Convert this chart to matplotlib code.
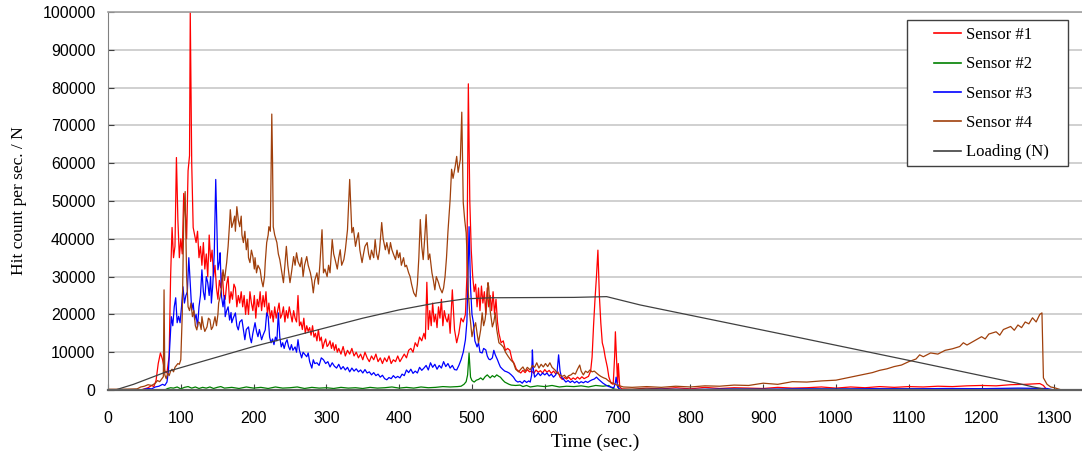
"""
Acoustic emission hit rate of four sensors during a load cycle.

Output:
    out.png
"""

import matplotlib.pyplot as plt
from matplotlib.patches import Rectangle

# ---------------------------------------------------------------- data
s1_time = [
    0, 45, 50, 55, 60, 63, 66, 69, 72, 75, 78, 81, 84, 86, 88, 90, 92, 94, 96, 98,
    100, 102, 104, 106, 108, 110, 112, 113, 115, 117, 119, 121, 123, 125, 127, 129,
    131, 133, 135, 137, 139, 141, 143, 145, 147, 149, 151, 153, 155, 157, 159, 161,
    163, 165, 167, 169, 171, 173, 175, 177, 179, 181, 183, 185, 187, 189, 191, 193,
    195, 197, 199, 201, 203, 205, 207, 209, 211, 213, 215, 217, 219, 221, 223, 225,
    227, 229, 231, 233, 235, 237, 239, 241, 243, 245, 247, 249, 251, 253, 255, 257,
    259, 261, 263, 265, 267, 269, 271, 273, 275, 277, 279, 281, 283, 285, 287, 289,
    291, 293, 295, 297, 299, 301, 303, 305, 307, 309, 311, 313, 315, 317, 320, 323,
    326, 329, 332, 335, 338, 341, 344, 347, 350, 353, 356, 359, 362, 365, 368, 371,
    374, 377, 380, 383, 386, 389, 392, 395, 398, 401, 404, 407, 410, 413, 416, 419,
    422, 425, 428, 431, 434, 436, 438, 440, 442, 444, 446, 448, 450, 452, 454, 456,
    458, 460, 462, 464, 466, 468, 470, 473, 476, 479, 482, 485, 488, 491, 493, 495,
    497, 499, 501, 503, 505, 507, 509, 511, 513, 515, 517, 519, 521, 523, 525, 527,
    529, 531, 533, 535, 537, 540, 543, 546, 549, 552, 555, 558, 561, 564, 567, 570,
    573, 576, 579, 582, 585, 588, 591, 594, 597, 600, 603, 606, 609, 612, 615, 618,
    621, 624, 627, 630, 633, 636, 639, 642, 645, 648, 651, 654, 657, 660, 663, 665,
    667, 669, 671, 673, 675, 677, 679, 681, 683, 686, 688, 691, 694, 696, 697, 699,
    700, 701, 703, 706, 720, 740, 760, 780, 800, 820, 840, 860, 880, 900, 920, 940,
    960, 980, 1000, 1020, 1040, 1060, 1080, 1100, 1120, 1140, 1160, 1180, 1200, 1220,
    1240, 1260, 1280, 1285, 1290, 1320,
]
s1_hits = [
    0, 0, 300, 600, 1200, 900, 2500, 7000, 9800, 8000, 5000, 4500, 9000, 30000, 43000,
    35000, 38000, 61500, 45000, 35000,
    40000, 36000, 52000, 48000, 40000, 58000, 62000, 100000, 60000, 43000, 41000,
    39000, 42000, 35000, 38000, 33000,
    39000, 32000, 36000, 30000, 41000, 34000, 37000, 30000, 33000, 27000, 24000,
    29000, 27000, 31000, 25000, 24000,
    28000, 30000, 23000, 26000, 24000, 28000, 27000, 22000, 25000, 23000, 26000,
    22000, 25000, 20000, 24000, 20000,
    26000, 23000, 21000, 25000, 19000, 24000, 22000, 26000, 21000, 25000, 22000,
    26000, 20000, 23000, 19000, 21000,
    18000, 22000, 19000, 21000, 23000, 19000, 20000, 22000, 18000, 21000, 19000,
    22000, 20000, 18000, 21000, 19000,
    18000, 25000, 17000, 18000, 16000, 19000, 15000, 17000, 15500, 16500, 14500,
    17000, 14000, 15000, 13000, 16000,
    13000, 14000, 11000, 12500, 13500, 11500, 12000, 13000, 11000, 12500, 10500,
    12000, 10000, 11000, 9500, 11500,
    9000, 10500, 9500, 11000, 9000, 10000, 8500, 9500, 8000, 10000, 8500, 7500, 9000,
    8000, 9500, 7500,
    8500, 7000, 8500, 7500, 9000, 7000, 8000, 7500, 9000, 7500, 8500, 9500, 8500,
    10500, 11000, 10000,
    12500, 11500, 14000, 13000, 15000, 13500, 28500, 16000, 21000, 17000, 23000,
    18000, 20000, 16500, 22000, 19000,
    24000, 17000, 21000, 19000, 18000, 20000, 15000, 26500, 16000, 12500, 15000,
    19000, 18000, 20000, 30000, 81000,
    50000, 37000, 30000, 26000, 28000, 22000, 27000, 21000, 27500, 23000, 26000,
    20000, 27000, 22000, 25000, 21000,
    26000, 20000, 24000, 18000, 15000, 12500, 13000, 10500, 11000, 10500, 8000, 7000,
    5500, 5000, 4500, 5200,
    4600, 5400, 4800, 5000, 4400, 5300, 4700, 5100, 4500, 5400, 4700, 5200, 4400,
    5000, 4300, 4800,
    3400, 2800, 3300, 2900, 3400, 2700, 3200, 2800, 3400, 2900, 3500, 3000, 3300,
    3600, 5000, 8700,
    17000, 24000, 30000, 37000, 25000, 17700, 12500, 11000, 8700, 6000, 3500, 1800,
    1500, 9000, 15400, 6000,
    1800, 7000, 800, 300, 200, 500, 300, 600, 300, 700, 400, 600, 500, 400, 700, 500,
    600, 800, 500, 800, 600, 900, 700, 900, 800, 1000, 900, 1100, 1200, 1100,
    1400, 1500, 1700, 1200, 0, 0,
]

s2_time = [
    0, 78, 82, 86, 90, 95, 100, 105, 110, 115, 120, 125, 130, 135, 140, 145, 150, 155,
    160, 170, 180, 190, 200, 210, 220, 230, 240, 250, 260, 270, 280, 290, 300, 310,
    320, 330, 340, 350, 360, 370, 380, 390, 400, 410, 420, 430, 440, 450, 460, 470,
    480, 485, 489, 492, 494, 496, 498, 500, 503, 506, 509, 512, 515, 518, 521, 523,
    525, 528, 531, 534, 537, 539, 542, 545, 548, 551, 554, 560, 566, 570, 575, 580,
    590, 600, 610, 620, 630, 640, 650, 660, 670, 680, 688, 692, 696, 700, 740, 800,
    860, 920, 980, 1040, 1100, 1160, 1220, 1280, 1295, 1310,
]
s2_hits = [
    0, 0, 400, 600, 500, 800, 300, 700, 900, 500, 800, 400, 700, 500, 800, 400, 700, 900,
    500, 700, 400, 800, 500, 700, 400, 800, 500, 600, 800, 400, 700, 500, 600, 400,
    700, 500, 600, 400, 700, 500, 600, 800, 500, 700, 500, 800, 600, 700, 900, 800,
    900, 1000, 1500, 2200, 4000, 9800, 3400, 2500, 2100, 2600, 2800, 3200, 2700, 3500,
    4000, 3600,
    3200, 3800, 3400, 4000, 3600, 3400, 2700, 2100, 1800, 1500, 1300, 1200, 1300, 900,
    1200, 800,
    1100, 900, 1200, 800, 1000, 900, 1100, 800, 1200, 1000, 1200, 600, 200, 100, 200,
    100,
    200, 150, 250, 200, 300, 250, 300, 250, 0, 0,
]

s3_time = [
    0, 45, 50, 55, 60, 65, 70, 75, 78, 81, 83, 85, 87, 89, 91, 93, 95, 97, 99, 101,
    103, 105, 107, 109, 111, 113, 115, 117, 119, 121, 123, 125, 127, 129, 131, 133,
    135, 137, 139, 141, 142, 144, 146, 148, 150, 151, 153, 154, 156, 158, 160, 161,
    163, 165, 167, 169, 170, 172, 175, 177, 179, 181, 184, 186, 188, 190, 193, 195,
    197, 199, 202, 204, 206, 208, 211, 213, 216, 218, 220, 222, 224, 226, 228, 230,
    232, 234, 236, 238, 240, 242, 244, 246, 248, 250, 252, 254, 257, 259, 261, 263,
    266, 268, 270, 273, 275, 277, 280, 282, 284, 287, 290, 293, 296, 299, 302, 305,
    308, 311, 314, 317, 320, 323, 326, 329, 332, 335, 338, 341, 344, 347, 350, 353,
    356, 359, 362, 365, 368, 371, 374, 377, 380, 383, 386, 389, 392, 395, 398, 401,
    404, 407, 410, 413, 416, 419, 422, 425, 428, 431, 434, 437, 440, 443, 446, 449,
    452, 455, 458, 461, 464, 467, 470, 473, 476, 479, 482, 485, 488, 491, 493, 494,
    496, 498, 500, 502, 504, 507, 509, 511, 514, 516, 519, 521, 523, 525, 528, 530,
    532, 535, 537, 539, 542, 545, 548, 551, 554, 557, 560, 563, 566, 569, 572, 575,
    578, 580, 582, 583, 584, 586, 589, 591, 594, 597, 600, 603, 606, 609, 612, 615,
    617, 619, 621, 623, 626, 629, 632, 635, 638, 641, 644, 647, 650, 653, 656, 659,
    662, 665, 668, 671, 674, 677, 680, 684, 688, 692, 695, 697, 698, 700, 702, 705,
    720, 760, 800, 850, 900, 950, 1000, 1050, 1100, 1150, 1200, 1250, 1290, 1300,
]
s3_hits = [
    0, 0, 200, 400, 300, 800, 1000, 1500, 1200, 2100, 5000, 12000, 19400, 17000,
    22000, 24400, 17800, 19500, 17800, 22000,
    27300, 23000, 25000, 26000, 35000, 28000, 21200, 23000, 18600, 20000, 16700,
    22000, 25000, 31800, 26000, 23900,
    30000, 28400, 25000, 30000, 23000, 28000, 36300, 55700, 40000, 31800, 34000,
    36300, 24700, 22000, 25000, 19400,
    21000, 22000, 18500, 20500, 17800, 19000, 20400, 17000, 15900, 18000, 18600,
    16000, 13300, 16000, 16700, 14000,
    12500, 15000, 17800, 15500, 14100, 16000, 13300, 14500, 15900, 20400, 19400,
    14000, 12500, 13500, 12000, 14000,
    13000, 20400, 14000, 11400, 12500, 11000, 12500, 13300, 11500, 10600, 12000,
    10500, 11400, 10000, 13300, 10500,
    8500, 10000, 9500, 8800, 9800, 7500, 5800, 8000, 7000, 7200, 6500, 8500, 8000,
    7000, 7500, 6100,
    7200, 6300, 5800, 6800, 5500, 6200, 5300, 6000, 4800, 5800, 5000, 5600, 4800,
    5300, 4500, 5400,
    4500, 4800, 4000, 4600, 3800, 4200, 3400, 3900, 3000, 2700, 3300, 3000, 3800,
    3200, 3600, 3200,
    4200, 3800, 5300, 4600, 5500, 4400, 5000, 4500, 6000, 5200, 5800, 6500, 5300,
    7200, 6000, 6800,
    5500, 6500, 5800, 7500, 6200, 7000, 5800, 6500, 5400, 5300, 6500, 8000, 10000,
    13300, 18000, 25700,
    43200, 27300, 20000, 17800, 13000, 11400, 12500, 10000, 9800, 11000, 10600, 9000,
    8200, 8000, 8500, 10500,
    9300, 8000, 7000, 6100, 5500, 5000, 4800, 4500, 4000, 3400, 2500, 2100, 2300,
    1800, 2500, 2000,
    2400, 2100, 4000, 10600, 6000, 3400, 4000, 4500, 3800, 4500, 4000, 4500, 3700,
    4200, 3400, 4000,
    5000, 9300, 5000, 3400, 2800, 2100, 2500, 2000, 2400, 1900, 2300, 1800, 2200,
    1900, 2300, 2000,
    2400, 2700, 2900, 3400, 2800, 2300, 1800, 1300, 900, 700, 600, 2000, 3400, 800,
    400, 100,
    100, 200, 150, 250, 200, 300, 250, 350, 300, 400, 350, 500, 400, 0,
]

s4_time = [
    0, 20, 40, 45, 50, 55, 60, 65, 68, 71, 74, 76, 77, 78, 80, 82, 84, 86, 88, 90,
    92, 94, 96, 98, 100, 102, 104, 106, 108, 110, 112, 114, 116, 118, 120, 122, 124,
    126, 128, 129, 131, 133, 136, 138, 140, 142, 144, 146, 147, 149, 151, 152, 154,
    156, 158, 160, 163, 165, 167, 168, 170, 172, 174, 175, 177, 179, 181, 183, 184,
    186, 188, 190, 192, 193, 195, 197, 199, 201, 202, 204, 206, 209, 211, 213, 215,
    216, 218, 220, 221, 223, 225, 226, 227, 229, 232, 234, 236, 238, 241, 243, 245,
    247, 250, 252, 255, 257, 259, 261, 264, 266, 268, 270, 273, 275, 278, 280, 282,
    284, 287, 289, 291, 294, 296, 298, 301, 303, 305, 308, 310, 312, 315, 317, 319,
    321, 324, 326, 329, 332, 335, 337, 340, 342, 344, 346, 349, 351, 353, 356, 358,
    360, 362, 365, 367, 369, 371, 373, 376, 378, 381, 383, 386, 388, 390, 392, 395,
    397, 399, 401, 403, 406, 408, 410, 413, 415, 417, 420, 423, 425, 427, 429, 431,
    433, 435, 437, 439, 440, 442, 445, 447, 449, 451, 454, 456, 459, 461, 463, 465,
    467, 470, 472, 474, 477, 479, 481, 484, 486, 488, 490, 492, 494, 495, 497, 500,
    502, 505, 507, 509, 512, 514, 516, 518, 520, 522, 523, 525, 528, 530, 532, 534,
    537, 540, 543, 546, 550, 553, 557, 560, 564, 567, 570, 573, 576, 580, 583, 586,
    589, 592, 595, 598, 601, 604, 607, 610, 614, 617, 621, 624, 627, 630, 633, 636,
    639, 642, 645, 648, 650, 653, 656, 659, 662, 665, 668, 671, 674, 677, 681, 684,
    687, 690, 694, 699, 703, 708, 720, 740, 760, 780, 800, 820, 840, 860, 880, 900,
    920, 940, 960, 980, 1000, 1020, 1040, 1050, 1060, 1070, 1080, 1090, 1100, 1110,
    1115, 1120, 1130, 1140, 1150, 1160, 1170, 1175, 1180, 1190, 1200, 1205, 1210,
    1220, 1225, 1230, 1240, 1245, 1250, 1255, 1260, 1265, 1270, 1275, 1280, 1283,
    1285, 1290, 1295, 1300, 1307, 1310,
]
s4_hits = [
    200, 200, 300, 800, 1000, 1400, 1200, 1800, 2500, 2200, 3000, 3500, 26500, 4000,
    3000, 4500, 3800, 5000, 5500, 4800,
    6000, 6500, 7000, 6800, 8000, 20000, 45000, 52500, 30000, 22000, 21000, 23000,
    19400, 21000, 17000, 15900, 18000,
    17800, 16000, 19400, 17000, 15500, 16700, 19000, 18600, 16000, 16700, 18500,
    19400, 17000, 20000, 23000, 24700,
    27000, 31800, 29000, 33700, 38000, 44000, 47700, 43000, 44300, 46000, 42000,
    48500, 45000, 43200, 46000, 41000,
    39000, 42000, 37100, 40000, 35000, 33700, 37000, 35300, 32000, 35000, 31000,
    33000, 31800, 29000, 27300, 30000,
    33700, 39000, 41000, 43200, 42000, 73000, 61000, 43200, 41000, 39000, 36000,
    34500, 32000, 28400, 33000, 38000,
    33000, 28400, 31000, 35300, 33000, 36300, 34000, 32600, 35000, 30000, 33000,
    35300, 33000, 31000, 29000, 25700,
    29000, 31000, 28000, 33000, 42400, 31000, 32000, 30000, 33000, 31000, 39800,
    36000, 34500, 32000, 35000, 37100,
    33000, 34500, 37000, 42400, 55700, 41600, 43000, 38000, 40000, 41600, 37000,
    33700, 36000, 38000, 39000, 36000,
    34500, 37000, 35000, 39800, 36000, 34500, 37000, 44300, 40000, 37100, 39000,
    36000, 39000, 37100, 36000, 34500,
    37000, 35000, 36300, 33000, 35000, 32600, 33000, 31000, 30000, 28000, 25700,
    24700, 28000, 35000, 45100, 38000,
    34500, 40000, 46400, 38000, 34500, 36000, 31000, 29000, 26500, 30000, 28400,
    27000, 25700, 27000, 30000, 35000,
    41900, 50400, 58400, 56000, 59200, 61800, 57600, 61000, 73500, 49600, 45000,
    41600, 32000, 25700, 20000, 14100,
    16000, 17800, 15000, 12500, 16000, 20400, 17000, 18600, 22000, 28400, 27300,
    21000, 16700, 18000, 20400, 16000,
    12500, 12000, 11400, 10000, 8800, 8000, 7200, 5500, 4800, 5500, 6100, 5000, 6000,
    5300, 6500, 6000,
    7200, 5800, 6800, 6100, 7000, 6200, 7200, 6000, 5300, 4500, 4000, 3600, 3900,
    3200, 3800, 4000,
    4500, 4200, 5500, 6600, 5000, 4000, 5000, 4600, 5300, 4800, 5000, 4500, 4000,
    3600, 3200, 3000,
    2500, 2100, 1800, 1300, 1100, 800, 700, 900, 700, 1000, 800, 1100, 1000, 1300,
    1200, 1800,
    1500, 2200, 2100, 2400, 2600, 3400, 4200, 4600, 5200, 5600, 6200, 6600, 7500,
    8200,
    9300, 8800, 9800, 9500, 10500, 10900, 11500, 12500, 11900, 13000, 14100, 13500,
    14800,
    15400, 14500, 16000, 16800, 15800, 17200, 16500, 18000, 17500, 19100, 18000,
    20000, 20400,
    3200, 1500, 800, 600, 200, 0,
]

load_time = [0, 10, 35, 80, 200, 300, 350, 400, 450, 490, 525, 640, 685, 731, 951,
             1111, 1249, 1271, 1292]
load_n = [0, 0, 1500, 4800, 11500, 16500, 19000, 21200, 23000, 24100, 24400, 24500,
          24700, 22500, 13800, 7400, 1800, 800, 0]

x_ticks = list(range(0, 1301, 100))
y_ticks = list(range(0, 100001, 10000))

# ---------------------------------------------------------------- figure
W, H = 1082, 454
fig = plt.figure(figsize=(W / 100, H / 100), dpi=100)
ax = fig.add_axes([108 / W, 64 / H, 1 - 108 / W, 378 / H])

sans = "Liberation Sans"
serif = "Liberation Serif"

ax.plot(s1_time, s1_hits, color="#ff0000", lw=0.9, label="Sensor #1")
ax.plot(s2_time, s2_hits, color="#008000", lw=0.9, label="Sensor #2")
ax.plot(s3_time, s3_hits, color="#0000ff", lw=0.9, label="Sensor #3")
ax.plot(s4_time, s4_hits, color="#a0400c", lw=0.9, label="Sensor #4")
ax.plot(load_time, load_n, color="#404040", lw=0.9, label="Loading (N)")

ax.set_xlim(0, 1338)
ax.set_ylim(0, 100000)
ax.set_xticks(x_ticks)
ax.set_yticks(y_ticks)
ax.set_xticklabels([str(v) for v in x_ticks], fontname=sans, fontsize=11.5)
ax.set_yticklabels([str(v) for v in y_ticks], fontname=sans, fontsize=11.5)
ax.tick_params(axis="x", direction="in", length=4, pad=15, color="#404040")
ax.tick_params(axis="y", direction="in", length=4, pad=9, color="#404040")

ax.grid(True, axis="y", color="#c8c8c8", lw=1.2)
ax.set_axisbelow(True)

ax.spines["right"].set_visible(False)
ax.spines["top"].set_color("#a0a0a0")
ax.spines["top"].set_linewidth(1.2)
ax.spines["left"].set_color("#808080")
ax.spines["bottom"].set_color("#606060")
ax.spines["bottom"].set_linewidth(1.6)

ax.set_xlabel("Time (sec.)", fontname=serif, fontsize=14, labelpad=6)
ax.set_ylabel("Hit count per sec. / N", fontname=serif, fontsize=12.5, labelpad=11)

# legend box drawn separately so the padding matches the original
fig.patches.append(Rectangle((907 / W, 1 - 166 / H), 161 / W, 146 / H,
                             transform=fig.transFigure, facecolor="white",
                             edgecolor="#404040", lw=1.0, zorder=5))
leg = fig.legend(
    *ax.get_legend_handles_labels(),
    loc="upper left",
    bbox_to_anchor=(934 / W, 1 - 27 / H),
    bbox_transform=fig.transFigure,
    prop={"family": serif, "size": 12},
    frameon=False,
    handlelength=1.6,
    handletextpad=0.3,
    labelspacing=0.8,
    borderpad=0.0,
    borderaxespad=0.0,
)
leg.set_zorder(6)
for line in leg.get_lines():
    line.set_linewidth(1.2)

fig.savefig("out.png", dpi=100)
